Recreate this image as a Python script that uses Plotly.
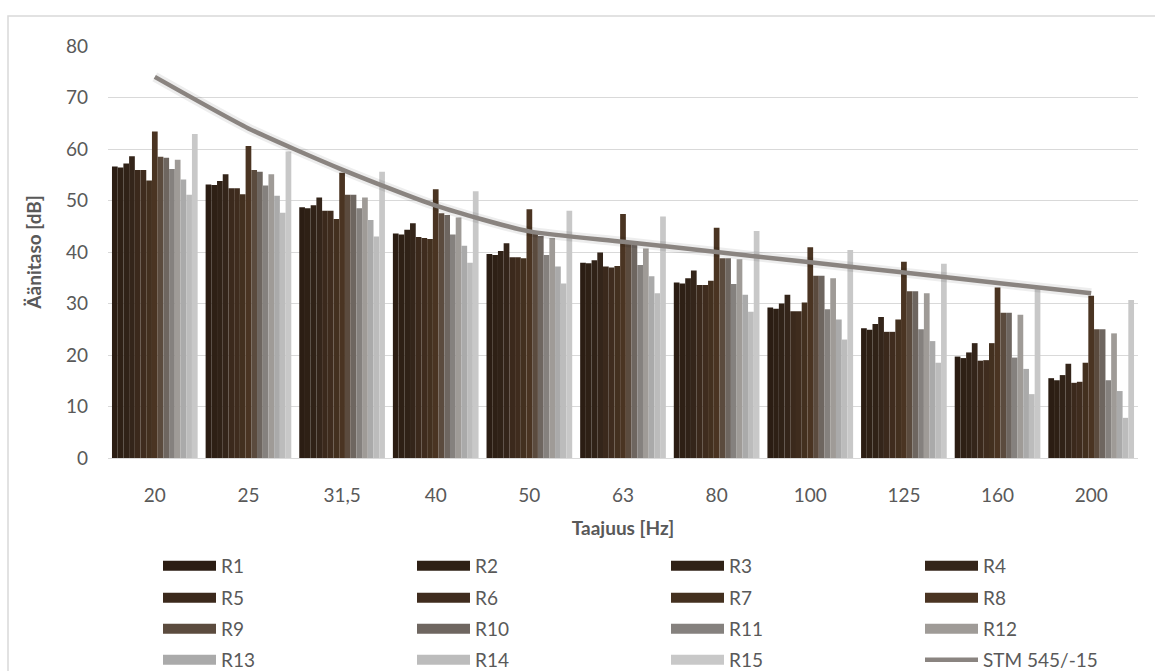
import plotly.graph_objects as go

# Octave-band centre frequencies (tick labels use a decimal comma)
categories = ["20", "25", "31,5", "40", "50", "63", "80", "100", "125", "160", "200"]

# Measured sound levels per room, dB
R1 = [56.6, 53.1, 48.7, 43.6, 39.6, 37.9, 34.1, 29.2, 25.2, 19.7, 15.5]
R2 = [56.4, 53.0, 48.5, 43.4, 39.4, 37.8, 33.9, 29.0, 24.9, 19.4, 15.1]
R3 = [57.2, 53.8, 49.1, 44.3, 40.2, 38.4, 34.9, 30.0, 26.0, 20.5, 16.1]
R4 = [58.6, 55.1, 50.6, 45.6, 41.7, 39.9, 36.4, 31.7, 27.4, 22.3, 18.3]
R5 = [55.9, 52.4, 48.0, 42.9, 39.0, 37.2, 33.6, 28.5, 24.5, 18.9, 14.6]
R6 = [55.9, 52.4, 48.0, 42.7, 39.0, 37.0, 33.6, 28.5, 24.5, 19.0, 14.8]
R7 = [53.9, 51.2, 46.4, 42.5, 38.8, 37.3, 34.4, 30.2, 26.9, 22.3, 18.5]
R8 = [63.4, 60.6, 55.4, 52.2, 48.3, 47.4, 44.7, 40.9, 38.1, 33.1, 31.5]
R9 = [58.5, 55.9, 51.1, 47.5, 43.5, 42.0, 38.8, 35.4, 32.4, 28.2, 25.0]
R10 = [58.3, 55.6, 51.1, 47.2, 43.1, 41.8, 38.8, 35.4, 32.4, 28.2, 25.0]
R11 = [56.1, 52.9, 48.5, 43.4, 39.4, 37.5, 33.8, 28.9, 25.0, 19.5, 15.1]
R12 = [57.9, 55.1, 50.6, 46.7, 42.7, 40.7, 38.6, 34.9, 32.0, 27.8, 24.2]
R13 = [54.1, 50.9, 46.2, 41.2, 37.2, 35.3, 31.7, 26.9, 22.7, 17.3, 13.0]
R14 = [51.1, 47.6, 43.0, 37.9, 33.9, 32.0, 28.4, 23.0, 18.5, 12.4, 7.8]
R15 = [62.9, 59.5, 55.6, 51.8, 48.0, 46.9, 44.1, 40.4, 37.7, 33.0, 30.7]

# Action limit values of decree STM 545/2015, dB
STM = [74, 64, 56, 49, 44, 42, 40, 38, 36, 34, 32]

series_names = ["R1", "R2", "R3", "R4", "R5", "R6", "R7", "R8",
                "R9", "R10", "R11", "R12", "R13", "R14", "R15"]
series_values = [R1, R2, R3, R4, R5, R6, R7, R8,
                 R9, R10, R11, R12, R13, R14, R15]
series_colors = ["#2b1d13", "#2e2015", "#302217", "#34251a", "#3b291c",
                 "#3f2c1e", "#43301f", "#4a3422", "#5b4b3e", "#6e6660",
                 "#85817e", "#9f9b97", "#aaaaaa", "#bcbcbc", "#c8c8c8"]
line_name = "STM 545/-15"
line_color = "#8a8480"

font_family = "Lato, 'Open Sans', sans-serif"
text_color = "#595959"

W, H = 1155, 671
# plot area in pixels
PL, PR, PT, PB = 108, 1138, 46, 458

fig = go.Figure()

for name, vals, col in zip(series_names, series_values, series_colors):
    fig.add_trace(go.Bar(
        x=categories, y=vals, name=name, marker=dict(color=col, line=dict(width=0)),
        legendgroup=name, showlegend=False,
    ))

# soft shadow under the limit curve
fig.add_trace(go.Scatter(
    x=categories, y=STM, mode="lines", hoverinfo="skip",
    line=dict(color="rgba(0,0,0,0.07)", width=10, shape="spline", smoothing=0.6),
    legendgroup="STM", showlegend=False,
))
fig.add_trace(go.Scatter(
    x=categories, y=STM, name=line_name, mode="lines",
    line=dict(color=line_color, width=4.5, shape="spline", smoothing=0.6),
    legendgroup="STM", showlegend=False,
))

# Legend: four rows of four entries, wide swatches drawn as line proxies
legend_entries = [(n, c, 12, n) for n, c in zip(series_names, series_colors)]
legend_entries.append((line_name, line_color, 4.5, "STM"))
legend_ids = ["legend", "legend2", "legend3", "legend4"]
for i, (name, col, w, grp) in enumerate(legend_entries):
    fig.add_trace(go.Scatter(
        x=[None], y=[None], name=name, mode="lines",
        line=dict(color=col, width=w), legendgroup=grp,
        legend=legend_ids[i // 4],
    ))

row_centres = [566, 598, 629, 660]
legend_common = dict(
    orientation="h", xref="container", yref="container",
    x=(163 - 5) / W, xanchor="left", yanchor="middle",
    entrywidth=186, entrywidthmode="pixels", itemwidth=53,
    font=dict(size=19, color=text_color), bgcolor="rgba(0,0,0,0)",
)
legend_layout = {
    lid: dict(legend_common, y=1 - yc / H) for lid, yc in zip(legend_ids, row_centres)
}

fig.update_layout(
    width=W, height=H,
    margin=dict(l=PL, r=W - PR, t=PT, b=H - PB, autoexpand=False),
    paper_bgcolor="white", plot_bgcolor="white",
    font=dict(family=font_family, color=text_color, size=19),
    barmode="group", bargap=0.085, bargroupgap=0,
    showlegend=True,
    xaxis=dict(
        type="category", showgrid=False, showline=True, linecolor="#d9d9d9",
        linewidth=1, ticks="", ticklabelstandoff=20,
        title=dict(text="<b>Taajuus [Hz]</b>", font=dict(size=19, color=text_color), standoff=16),
        tickfont=dict(size=19, color=text_color),
    ),
    yaxis=dict(
        range=[0, 80], dtick=10, showgrid=True, gridcolor="#d9d9d9", gridwidth=1,
        zeroline=False, showline=False, ticks="", ticklabelstandoff=19,
        title=dict(text="<b>Äänitaso [dB]</b>", font=dict(size=19, color=text_color), standoff=19),
        tickfont=dict(size=19, color=text_color),
    ),
    shapes=[dict(
        type="rect", xref="paper", yref="paper",
        x0=(8 - PL) / (PR - PL), x1=1.03, y0=-0.56, y1=(PB - 16) / (PB - PT),
        line=dict(color="#d9d9d9", width=1.5), fillcolor="rgba(0,0,0,0)", layer="below",
    )],
    **legend_layout,
)

fig.write_html("out.html")
